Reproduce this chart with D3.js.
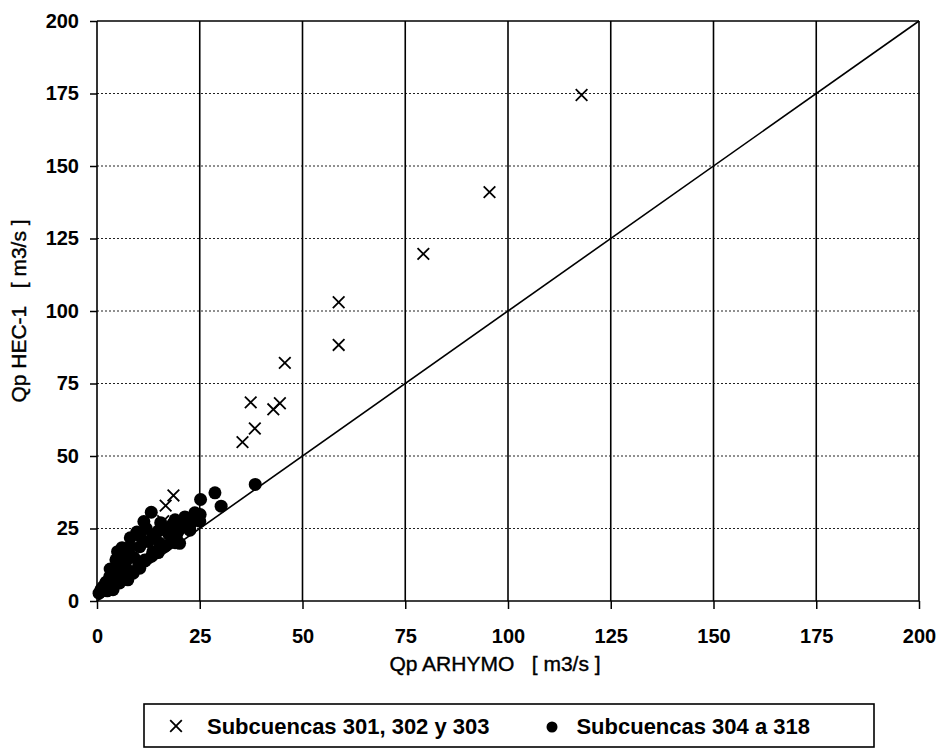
<!DOCTYPE html>
<html>
<head>
<meta charset="utf-8">
<script src="https://cdn.jsdelivr.net/npm/d3@7/dist/d3.min.js"></script>
<style>
  body{ margin:0; background:#fff; }
  svg{ display:block; font-family:"Liberation Sans", Arial, sans-serif; }
  .tick text{ font-weight:bold; font-size:20px; fill:#000; }
  .axis path{ display:none; }
  .axis line{ stroke:#000; stroke-width:1.5; }
  .hgrid{ stroke:#222; stroke-width:1.2; stroke-dasharray:2,2; }
  .vgrid{ stroke:#000; stroke-width:1.6; }
  .title{ fill:#000; stroke:#000; stroke-width:0.4; font-size:21px; }
</style>
</head>
<body>
<svg id="chart" width="938" height="749"></svg>
<script>
/* ===== Data ===== */
const xTicks = [0, 25, 50, 75, 100, 125, 150, 175, 200];
const yTicks = [0, 25, 50, 75, 100, 125, 150, 175, 200];

// Subcuencas 301, 302 y 303 (crosses)
const crossX = [117.9, 95.5, 79.4, 58.8, 58.8, 45.7, 37.4, 44.5, 42.9, 38.4, 35.4, 18.6, 16.7, 16.1];
const crossY = [174.5, 141.0, 119.7, 103.0, 88.3, 82.1, 68.5, 68.2, 66.1, 59.5, 54.8, 36.4, 32.9, 27.5];

// Subcuencas 304 a 318 (dots)
const dotX = [38.5, 28.7, 25.2, 30.2, 25.1, 25.0, 23.8, 21.4, 19.0, 21.6, 18.5, 15.5, 13.2, 11.4, 9.7,
              8.1, 8.0, 6.1, 5.9, 4.6, 4.7, 3.2, 3.1, 1.5, 0.5, 21.4, 22.6, 19.8, 16.9, 19.3,
              18.2, 20.1, 19.0, 16.6, 15.3, 14.9, 13.6, 13.3, 11.7, 11.6, 10.1, 10.4, 8.8, 7.5, 5.5,
              3.9, 13.7, 14.9, 10.4, 7.7, 5.7, 6.3, 7.7, 3.6, 6.0, 2.2, 1.0, 12.5, 9.0, 10.5,
              12.0, 7.0, 4.0, 17.5, 23.0, 5.0, 2.5];
const dotY = [40.2, 37.3, 35.0, 32.7, 29.8, 27.5, 30.4, 29.0, 28.0, 27.3, 26.7, 27.0, 30.6, 27.4, 23.8,
              21.8, 18.7, 18.4, 15.3, 14.2, 11.8, 11.0, 8.4, 5.0, 2.7, 25.8, 24.4, 24.1, 24.4, 22.1,
              21.2, 19.9, 20.1, 18.9, 19.9, 16.7, 17.0, 15.5, 13.8, 14.1, 12.1, 11.3, 9.6, 7.3, 6.2,
              3.9, 22.4, 24.1, 18.7, 16.7, 13.3, 10.7, 10.4, 9.3, 8.0, 6.5, 4.0, 20.5, 15.0, 22.5,
              25.0, 13.5, 7.5, 23.0, 27.0, 17.0, 3.5];

const series1 = 'Subcuencas 301, 302 y 303';
const series2 = 'Subcuencas 304 a 318';
const xTitle = 'Qp ARHYMO\u00a0\u00a0\u00a0[ m3/s ]';
const yTitle = 'Qp HEC-1\u00a0\u00a0\u00a0[ m3/s ]';

/* ===== Layout ===== */
const svg = d3.select('#chart');
const m = {t:21, l:97, r:919, b:601};
const x = d3.scaleLinear().domain([0,200]).range([m.l, m.r]);
const y = d3.scaleLinear().domain([0,200]).range([m.b, m.t]);

// horizontal dotted grid
svg.append('g').selectAll('line').data(yTicks.filter(v => v>0 && v<200)).enter().append('line')
  .attr('class','hgrid').attr('x1',x(0)).attr('x2',x(200)).attr('y1',d=>y(d)).attr('y2',d=>y(d));
// top frame
svg.append('line').attr('x1',x(0)).attr('x2',x(200)).attr('y1',y(200)).attr('y2',y(200))
  .attr('stroke','#000').attr('stroke-width',1.4);
// vertical solid grid
svg.append('g').selectAll('line').data(xTicks).enter().append('line')
  .attr('class','vgrid').attr('x1',d=>x(d)).attr('x2',d=>x(d)).attr('y1',y(0)).attr('y2',y(200));
// bottom axis line
svg.append('line').attr('x1',x(0)).attr('x2',x(200)).attr('y1',y(0)).attr('y2',y(0))
  .attr('stroke','#000').attr('stroke-width',1.6);

// axes
svg.append('g').attr('class','axis').attr('transform',`translate(0,${m.b})`)
  .call(d3.axisBottom(x).tickValues(xTicks).tickSize(8).tickPadding(20).tickFormat(d3.format('d')));
svg.append('g').attr('class','axis').attr('transform',`translate(${m.l},0)`)
  .call(d3.axisLeft(y).tickValues(yTicks).tickSize(7).tickPadding(11).tickFormat(d3.format('d')));

// 1:1 line
svg.append('path').attr('fill','none').attr('stroke','#000').attr('stroke-width',1.6)
  .attr('d', d3.line().x(d=>x(d)).y(d=>y(d))([0,200]));

// dots
svg.append('g').selectAll('circle').data(dotX).enter().append('circle')
  .attr('cx',d=>x(d)).attr('cy',(d,i)=>y(dotY[i])).attr('r',6.5).attr('fill','#000');

// crosses
const cross = d3.symbol().type(d3.symbolTimes).size(90);
svg.append('g').selectAll('path').data(crossX).enter().append('path')
  .attr('d',cross).attr('transform',(d,i)=>`translate(${x(d)},${y(crossY[i])})`)
  .attr('fill','none').attr('stroke','#000').attr('stroke-width',1.8);

// axis titles
svg.append('text').attr('class','title').attr('x',495).attr('y',671).attr('text-anchor','middle').text(xTitle);
svg.append('text').attr('class','title').attr('transform',`translate(26,${(m.t+m.b)/2}) rotate(-90)`)
  .attr('text-anchor','middle').text(yTitle);

// legend
const lg = svg.append('g');
lg.append('rect').attr('x',144).attr('y',704).attr('width',730).attr('height',43)
  .attr('fill','#fff').attr('stroke','#000').attr('stroke-width',1.6);
lg.append('path').attr('d',cross).attr('transform','translate(176,726)')
  .attr('fill','none').attr('stroke','#000').attr('stroke-width',1.8);
lg.append('text').attr('x',207).attr('y',734).attr('font-size',22).attr('font-weight','bold').text(series1);
lg.append('circle').attr('cx',552).attr('cy',727).attr('r',5.5).attr('fill','#000');
lg.append('text').attr('x',810).attr('y',734).attr('text-anchor','end').attr('font-size',22).attr('font-weight','bold').text(series2);
</script>
</body>
</html>
